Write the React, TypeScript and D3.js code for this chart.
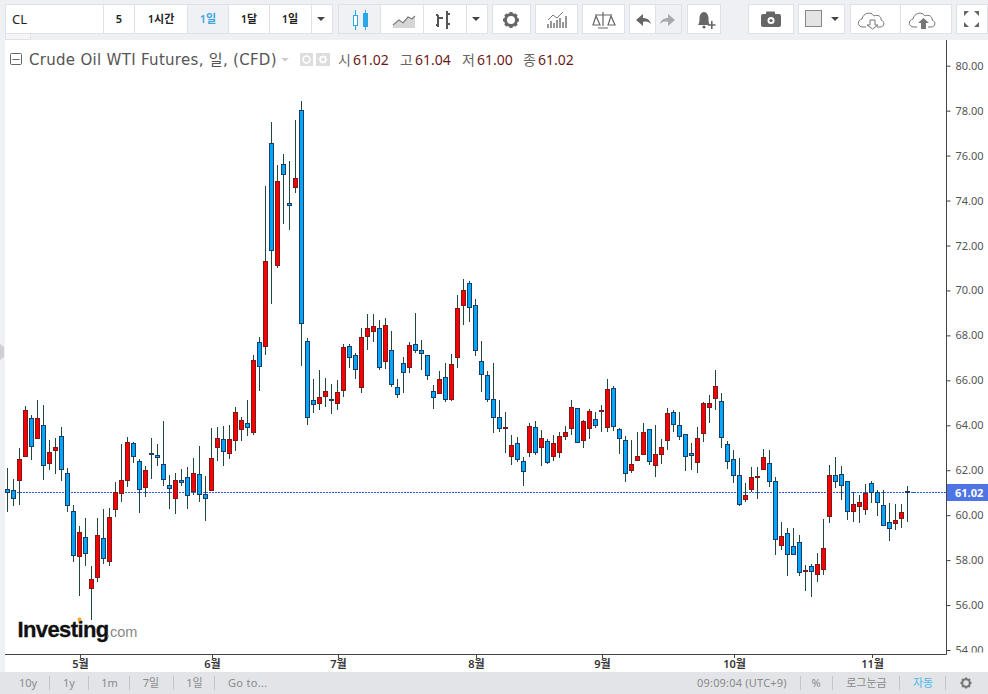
import { useRef, useEffect } from "react";
import * as d3 from "d3";

const WIDTH = 988;
const HEIGHT = 694;

const opens = [
  61.15,61.10,61.53,62.62,64.31,63.40,64.00,62.33,62.87,63.51,
  61.86,60.17,58.17,59.01,56.72,57.21,58.97,57.93,60.24,60.97,
  61.53,63.20,62.39,61.22,62.75,62.66,62.26,61.33,60.77,61.56,
  61.68,61.04,61.82,60.94,61.09,63.00,63.37,62.73,63.33,63.80,
  64.09,63.67,67.69,67.51,76.55,71.10,75.61,73.88,74.57,78.02,
  67.74,65.11,64.96,65.27,65.15,64.96,65.54,67.51,67.11,65.67,
  67.94,68.16,68.31,66.83,67.33,65.69,66.76,66.60,67.60,67.33,
  67.11,65.51,65.40,66.13,65.14,67.00,69.32,70.32,69.34,66.85,
  66.22,65.15,64.35,63.85,62.64,63.20,62.39,62.78,63.91,63.00,
  63.28,62.60,62.82,63.49,63.85,64.75,63.33,63.85,64.26,64.60,
  63.93,65.64,63.82,63.33,61.98,62.42,62.73,63.82,62.24,62.69,
  63.33,64.58,64.00,63.60,62.75,62.35,63.62,64.78,65.20,65.06,
  63.15,62.48,61.77,60.70,61.13,61.71,62.02,62.31,61.50,58.64,
  59.19,58.61,58.79,57.48,57.72,57.35,57.57,59.93,61.77,61.82,
  61.50,60.15,60.37,60.28,61.42,61.01,60.44,59.68,59.62,59.84,
  61.06,61.02,
];

const highs = [
  62.08,61.61,62.97,64.86,64.46,65.12,64.90,63.34,63.42,63.93,
  62.08,60.44,59.51,59.87,57.73,59.87,60.26,60.30,61.49,63.16,
  63.46,63.24,62.48,62.19,63.43,63.16,64.20,61.78,61.86,62.05,
  62.13,62.55,63.07,61.74,63.89,63.93,63.97,64.01,64.80,64.35,
  65.12,67.13,67.94,74.65,77.48,75.59,76.07,75.76,77.58,78.43,
  67.87,66.06,66.46,66.12,65.83,66.01,67.61,67.61,67.20,68.31,
  68.95,68.95,68.68,68.77,68.21,66.06,67.05,67.70,68.99,67.79,
  67.13,65.79,66.40,66.78,67.17,69.80,70.51,70.42,69.62,67.75,
  66.40,66.78,65.12,64.59,63.56,63.48,62.60,64.09,64.19,63.79,
  63.37,63.56,63.70,63.97,65.12,64.77,64.23,64.72,64.58,64.91,
  66.06,65.75,63.89,63.52,63.34,63.70,64.09,63.82,64.00,63.37,
  64.75,64.68,64.59,63.61,63.20,63.93,65.05,65.34,66.46,65.42,
  63.28,62.90,62.53,61.42,62.13,62.15,62.94,62.90,61.68,59.71,
  59.41,59.41,59.11,57.77,57.82,58.33,59.83,62.23,62.60,62.20,
  61.52,61.01,60.89,61.38,61.52,61.12,61.12,60.53,60.49,60.49,
  61.29,61.04,
];

const lows = [
  60.15,60.40,60.45,62.59,62.45,63.40,61.56,62.01,61.83,61.53,
  60.15,57.91,56.41,57.75,55.33,57.04,57.82,57.75,59.93,60.60,
  61.26,62.33,60.11,60.82,61.62,62.19,61.29,60.27,60.05,61.29,
  60.27,60.89,60.60,59.74,61.09,62.40,62.20,62.51,62.87,63.31,
  63.53,63.56,65.54,67.13,69.41,71.01,72.96,72.69,74.35,66.64,
  64.01,64.56,64.68,64.82,64.50,64.68,65.27,66.55,66.04,65.45,
  67.35,67.72,66.46,66.49,65.69,65.23,65.45,66.34,67.23,66.46,
  66.01,64.72,65.38,65.03,65.09,66.55,68.46,68.58,67.08,65.49,
  65.03,63.67,63.71,62.75,62.23,62.38,61.29,62.60,62.67,62.19,
  62.27,62.40,62.56,63.34,63.58,63.20,62.99,63.37,63.89,63.70,
  63.70,63.76,62.72,61.47,61.86,62.42,62.72,62.23,61.71,62.27,
  62.90,63.71,63.34,61.96,62.01,61.89,63.27,64.09,64.68,63.00,
  62.05,61.44,60.42,60.57,61.04,60.72,62.01,61.26,58.22,58.45,
  57.29,58.22,57.29,56.62,56.37,57.02,57.33,59.66,61.21,60.67,
  59.78,59.69,59.66,60.00,60.54,59.96,59.55,58.85,59.34,59.43,
  59.69,61.00,
];

const closes = [
  61.01,60.75,62.48,64.66,63.06,64.31,62.24,62.80,63.02,62.02,
  60.44,58.21,59.23,58.30,57.14,59.10,58.06,59.90,61.00,61.55,
  63.24,62.64,61.15,61.99,62.69,62.57,61.58,61.18,61.55,61.49,
  60.86,61.86,60.93,60.77,62.53,63.42,62.84,63.37,64.58,64.22,
  63.89,66.89,66.62,71.30,71.78,74.86,75.15,73.81,74.96,68.54,
  64.34,64.91,65.24,65.51,65.09,65.46,67.47,67.02,66.47,67.91,
  68.31,68.40,66.56,68.45,65.80,65.36,66.38,67.56,67.32,67.18,
  66.20,65.23,66.04,65.14,66.71,69.20,70.00,69.25,67.32,66.29,
  65.14,64.34,63.85,63.88,63.11,62.47,61.93,63.95,62.78,63.42,
  62.33,63.20,63.51,63.69,64.80,63.22,64.17,64.62,63.98,64.66,
  65.60,63.93,63.44,61.84,62.26,62.62,63.69,62.38,62.71,63.02,
  64.53,64.04,63.53,62.64,62.64,63.42,64.97,64.97,65.73,63.44,
  62.38,61.75,60.48,60.88,61.68,61.74,62.57,61.49,58.91,59.06,
  58.24,58.24,57.44,57.54,57.48,57.81,58.52,61.77,61.49,61.31,
  60.15,60.48,60.57,60.97,61.01,60.55,59.57,59.40,59.77,60.12,
  61.01,61.02,
];

const priceTicks = [80, 78, 76, 74, 72, 70, 68, 66, 64, 62, 60, 58, 56, 54];
const monthIndex = [12, 34, 55, 78, 99, 121, 144];
const monthLabels = ["5월", "6월", "7월", "8월", "9월", "10월", "11월"];
const lastPrice = 61.02;

const FONT = '"Noto Sans", "Noto Sans CJK KR", sans-serif';

const x = d3.scaleLinear().domain([0, 151]).range([7.5, 913.5]);
const y = d3.scaleLinear().domain([54, 80]).range([650, 65.7]);
const snap = (v: number) => Math.round(v - 0.5) + 0.5;

type BtnProps = { x: number; w: number; on?: boolean };
const Btn = ({ x: bx, w, on }: BtnProps) => (
  <rect x={bx + 0.5} y={4.5} width={w} height={29} fill={on ? "#f0f1f4" : "#fff"} stroke="#dfe1e6" />
);

const Caret = ({ cx }: { cx: number }) => (
  <path d={`M${cx - 4} 17h8l-4 4z`} fill="#444" />
);

const Label = ({ cx, s, fill = "#222" }: { cx: number; s: string; fill?: string }) => (
  <text x={cx} y={23} textAnchor="middle" fontSize={11} fontWeight={600} fill={fill} fontFamily={FONT}>
    {s}
  </text>
);

const Gear = ({ cx, cy, r, fill }: { cx: number; cy: number; r: number; fill: string }) => (
  <g>
    <circle cx={cx} cy={cy} r={r} fill="none" stroke={fill} strokeWidth={r * 0.55} />
    {d3.range(8).map((k) => (
      <rect
        key={k}
        x={cx - r * 0.28}
        y={cy - r * 1.45}
        width={r * 0.56}
        height={r * 0.5}
        fill={fill}
        transform={`rotate(${k * 45} ${cx} ${cy})`}
      />
    ))}
  </g>
);

const Toolbar = () => (
  <g>
    <Btn x={5} w={98} />
    <text x={12} y={24} fontSize={13} fill="#222" fontFamily={FONT}>CL</text>
    <Btn x={103} w={31} />
    <Label cx={119} s="5" />
    <Btn x={134} w={53} />
    <Label cx={161} s="1시간" />
    <Btn x={187} w={41} on />
    <Label cx={208} s="1일" fill="#3ba6e0" />
    <Btn x={228} w={41} />
    <Label cx={249} s="1달" />
    <Btn x={269} w={42} />
    <Label cx={290} s="1일" />
    <Btn x={311} w={21} />
    <Caret cx={321} />

    <Btn x={338} w={42} on />
    <g stroke="#2ba6e6" fill="none">
      <path d="M355.5 10v20M365.5 10v20" />
      <rect x={353.5} y={15.5} width={4} height={10} fill="#fff" />
      <rect x={363.5} y={13.5} width={4} height={13} fill="#2ba6e6" />
    </g>
    <Btn x={380} w={43} />
    <path d="M393 26l6-5 4 3 5-6 4 2 3-3v11h-22z" fill="#d5d5d5" />
    <path d="M393 25l6-5 4 3 5-6 4 2 3-3" fill="none" stroke="#777" strokeWidth={1.2} />
    <Btn x={423} w={43} />
    <path d="M438 27V15M438 15h-2M438 25h-2M447 11v18M447 14h3M447 24h3M438 18h5" fill="none" stroke="#555" strokeWidth={2} />
    <Btn x={466} w={21} />
    <Caret cx={476} />

    <Btn x={492} w={38} />
    <Gear cx={511} cy={20} r={5.5} fill="#666" />
    <Btn x={535} w={42} />
    <path d="M548 28v-4M551 28v-7M554 28v-5M557 28v-8M560 28v-10M563 28v-6M566 28v-12" stroke="#777" strokeWidth={1.5} fill="none" />
    <path d="M548 20l5-5 4 3 6-6" stroke="#777" fill="none" />
    <Btn x={582} w={42} />
    <g fill="none" stroke="#666" strokeWidth={1.2}>
      <path d="M603 12v14M598 28h10M595 15h17" />
      <path d="M596 16l-3 9h7zM611 16l-3 9h7z" />
    </g>
    <Btn x={629} w={26} />
    <path d="M636 20l7-6v4c4 0 7 2 8 6-2-2-4-3-8-2v4z" fill="#666" />
    <Btn x={655} w={26} on />
    <path d="M675 20l-7-6v4c-4 0-7 2-8 6 2-2 4-3 8-2v4z" fill="#aaa" />
    <Btn x={687} w={33} />
    <path d="M698 25c1.500-2 1.500-4 1.500-7 0-3 2-6 4.500-6s4.500 3 4.500 6c0 3 0 5 1.500 7z" fill="#666" />
    <circle cx={704} cy={27} r={1.6} fill="#666" />
    <path d="M708 25h7.500M711.800 21v8" stroke="#666" strokeWidth={1.6} />

    <Btn x={748} w={45} />
    <rect x={761} y={14} width={20} height={13} rx={2} fill="#666" />
    <rect x={766} y={11.5} width={9} height={4} rx={1} fill="#666" />
    <circle cx={771} cy={20.5} r={3.5} fill="#fff" />
    <circle cx={771} cy={20.5} r={1.6} fill="#666" />
    <Btn x={798} w={46} />
    <rect x={805.5} y={10.5} width={16} height={16} fill="#e4e4e4" stroke="#888" />
    <Caret cx={835} />
    <Btn x={850} w={50} />
    <path d="M866 27h-3c-6 0-6-7-1-8 1-6 9-8 12-3 4-2 8 1 7 4 4 1 4 7-1 7h-3" fill="none" stroke="#777" />
    <path d="M870 20h5v5h3l-5.500 4-5.500-4h3z" fill="#fff" stroke="#777" />
    <Btn x={900} w={51} />
    <path d="M917 27h-3c-6 0-6-7-1-8 1-6 9-8 12-3 4-2 8 1 7 4 4 1 4 7-1 7h-3" fill="none" stroke="#777" />
    <path d="M921 29v-6h-3l5.500-5 5.500 5h-3v6z" fill="#777" />
    <Btn x={956} w={31} />
    <path d="M964 11h5l-5 5zM979 11h-5l5 5zM964 27h5l-5-5zM979 27h-5l5-5z" fill="#666" />
  </g>
);

const Legend = () => (
  <g fontFamily={FONT}>
    <rect x={10.5} y={53.5} width={11} height={11} rx={1} fill="#fff" stroke="#666" />
    <path d="M12.500 59.500h7" stroke="#666" />
    <text x={29} y={65} fontSize={15} letterSpacing={0.3} fill="#555" fontFamily='"DejaVu Sans", "Noto Sans CJK KR", sans-serif'>
      Crude Oil WTI Futures, 일, (CFD)
    </text>
    <path d="M281 58h8l-4 3.500z" fill="#ccc" />
    <rect x={300} y={53} width={13} height={13} fill="#ddd" />
    <circle cx={306.500} cy={59.500} r={3.500} fill="none" stroke="#fff" strokeWidth={1.500} />
    <rect x={316} y={53} width={14} height={13} fill="#ddd" />
    <Gear cx={323} cy={59.500} r={2.800} fill="#fff" />
    {[
      ["시", "61.02", 338],
      ["고", "61.04", 400],
      ["저", "61.00", 462],
      ["종", "61.02", 523],
    ].map(([k, v, px]) => (
      <g key={String(k)}>
        <text x={Number(px)} y={65} fontSize={14} fill="#666">{k}</text>
        <text x={Number(px) + 15} y={65} fontSize={14} fill="#6b1a1a">{v}</text>
      </g>
    ))}
  </g>
);

const Footer = () => (
  <g fontFamily={FONT} fontSize={11} fill="#8a8a8a">
    <rect x={0} y={672} width={WIDTH} height={22} fill="#e3e4e8" />
    {[
      ["10y", 28],
      ["1y", 69],
      ["1m", 109.500],
      ["7일", 151],
      ["1일", 194.500],
    ].map(([s, cx]) => (
      <text key={String(s)} x={Number(cx)} y={687} textAnchor="middle">{s}</text>
    ))}
    <text x={228} y={687} letterSpacing={0.3}>Go to...</text>
    <text x={697} y={687} letterSpacing={0.2}>09:09:04 (UTC+9)</text>
    <text x={816} y={687} textAnchor="middle">%</text>
    <text x={866.500} y={687} textAnchor="middle">로그눈금</text>
    <text x={923} y={687} textAnchor="middle" fill="#4db5e8">자동</text>
    {[49, 88, 129, 173, 214, 800, 832, 899, 945].map((sx) => (
      <path key={sx} d={`M${sx + 0.5} 676v14`} stroke="#c5c5c8" />
    ))}
    <Gear cx={966} cy={683} r={3.800} fill="#777" />
  </g>
);

const Logo = () => (
  <g>
    <text x={17.5} y={637} fontSize={22} fontWeight={700} fill="#111" stroke="#111" strokeWidth={0.3} fontFamily='"Liberation Sans", sans-serif' letterSpacing={-0.6}>
      Investing
    </text>
    <circle cx={79.500} cy={619.500} r={2} fill="#f5a623" />
    <text x={106} y={637} fontSize={14.500} fill="#888" fontFamily='"Liberation Sans", sans-serif'>
      .com
    </text>
  </g>
);

const App = () => {
  const ref = useRef<SVGGElement>(null);

  useEffect(() => {
    if (!ref.current) {
      return;
    }
    const root = d3.select(ref.current);
    root.selectAll("*").remove();

    // current price line
    root
      .append("line")
      .attr("x1", 5)
      .attr("x2", 946)
      .attr("y1", snap(y(lastPrice)))
      .attr("y2", snap(y(lastPrice)))
      .attr("stroke", "#2f5fe8")
      .attr("stroke-dasharray", "2,1");

    const candles = root
      .append("g")
      .attr("shape-rendering", "crispEdges")
      .selectAll("g")
      .data(d3.range(opens.length))
      .enter()
      .append("g");

    candles
      .append("line")
      .attr("x1", (i) => x(i))
      .attr("x2", (i) => x(i))
      .attr("y1", (i) => y(highs[i]))
      .attr("y2", (i) => y(lows[i]))
      .attr("stroke", "#21483b");

    candles
      .append("rect")
      .attr("x", (i) => x(i) - 2)
      .attr("width", (i) => (i === opens.length - 1 ? 0 : 4))
      .attr("y", (i) => snap(y(Math.max(opens[i], closes[i]))))
      .attr("height", (i) =>
        Math.max(1, Math.round(Math.abs(y(opens[i]) - y(closes[i]))))
      )
      .attr("fill", (i) => (closes[i] >= opens[i] ? "#f80000" : "#00a6fa"))
      .attr("stroke", (i) => (closes[i] >= opens[i] ? "#7a1a1a" : "#1c3c68"));

    // price axis
    const clipped = root.append("g").attr("clip-path", "url(#axisClip)");
    const axis = d3
      .axisRight(y)
      .tickValues(priceTicks)
      .tickSize(4)
      .tickPadding(5)
      .tickFormat((d) => d3.format(".2f")(d as number));
    const gy = clipped.append("g").attr("transform", "translate(946.5,0)").call(axis);
    gy.select(".domain").remove();
    gy.selectAll("line").attr("stroke", "#444");
    gy.selectAll("text")
      .attr("fill", "#555")
      .attr("font-size", 11)
      .attr("font-family", FONT);

    // month axis
    const months = root.append("g");
    months
      .selectAll("line")
      .data(monthIndex)
      .enter()
      .append("line")
      .attr("x1", (i) => x(i) + 1)
      .attr("x2", (i) => x(i) + 1)
      .attr("y1", 654)
      .attr("y2", 658)
      .attr("stroke", "#444");
    months
      .selectAll("text")
      .data(monthIndex)
      .enter()
      .append("text")
      .attr("x", (i) => x(i) + 1)
      .attr("y", 668)
      .attr("text-anchor", "middle")
      .attr("font-size", 11)
      .attr("font-weight", 600)
      .attr("font-family", FONT)
      .attr("fill", "#333")
      .text((_, k) => monthLabels[k]);

    // last price tag
    root
      .append("rect")
      .attr("x", 947)
      .attr("y", snap(y(lastPrice)) - 8.5)
      .attr("width", 41)
      .attr("height", 17)
      .attr("fill", "#4f74e6");
    root
      .append("text")
      .attr("x", 955)
      .attr("y", snap(y(lastPrice)) + 4)
      .attr("font-size", 11)
      .attr("font-weight", 700)
      .attr("font-family", FONT)
      .attr("fill", "#fff")
      .text(d3.format(".2f")(lastPrice));
  }, []);

  return (
    <svg
      width={WIDTH}
      height={HEIGHT}
      style={{ position: "absolute", left: 0, top: 0, display: "block" }}
    >
      <defs>
        <clipPath id="axisClip">
          <rect x={940} y={40} width={48} height={612.5} />
        </clipPath>
      </defs>
      <rect width={WIDTH} height={HEIGHT} fill="#eff0f4" />
      <rect x={5} y={40} width={983} height={632} fill="#fff" />
      <path d="M5.500 33.500v6h25v-6" fill="#f5f5f7" stroke="#dfe1e6" />
      <Toolbar />
      <path d="M0 344l4 3v10l-4 3z" fill="#d0d0d4" />
      <path d="M5 654.500H946.500V40" fill="none" stroke="#444" />
      <Legend />
      <Logo />
      <g ref={ref} />
      <Footer />
    </svg>
  );
};

export default App;
